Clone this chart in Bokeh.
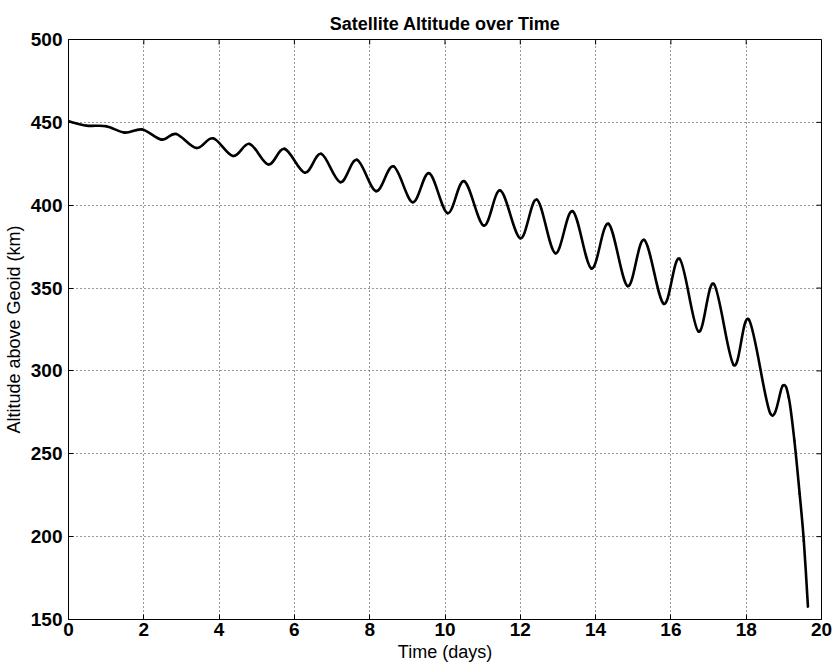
import numpy as np
from bokeh.plotting import figure
from bokeh.models import FixedTicker, Range1d
from bokeh.embed import file_html
from bokeh.resources import INLINE

# ---- data ----
time_days = [0.0, 0.48, 1.0, 1.49, 1.96, 2.47, 2.86, 3.4, 3.84, 4.37, 4.81, 5.31,
             5.74, 6.28, 6.71, 7.22, 7.66, 8.17, 8.63, 9.14, 9.58, 10.07, 10.51,
             11.03, 11.47, 12.0, 12.44, 12.93, 13.39, 13.89, 14.34, 14.85, 15.29,
             15.81, 16.23, 16.73, 17.14, 17.67, 18.07, 18.64, 18.97, 19.13, 19.28,
             19.42, 19.53, 19.64]
altitude_km = [450.7, 448.0, 447.7, 443.8, 445.7, 439.6, 443.0, 434.5, 440.4, 429.7,
               437.0, 424.6, 434.0, 419.6, 431.0, 413.9, 427.4, 408.5, 423.5, 401.8,
               419.3, 395.2, 414.5, 387.7, 408.9, 380.1, 403.4, 371.0, 396.4, 361.8,
               388.8, 351.2, 379.1, 340.5, 367.7, 323.8, 352.5, 303.5, 331.0, 274.3,
               291.0, 284.0, 258.0, 225.8, 197.6, 157.8]
x_ticks = [0, 2, 4, 6, 8, 10, 12, 14, 16, 18, 20]
y_ticks = [150, 200, 250, 300, 350, 400, 450, 500]

FONT = "Liberation Sans"

p = figure(width=833, height=668, output_backend="svg", toolbar_location=None,
           x_range=Range1d(x_ticks[0], x_ticks[-1]),
           y_range=Range1d(y_ticks[0], y_ticks[-1]),
           min_border_left=67, min_border_right=12, min_border_top=39,
           min_border_bottom=49, title="Satellite Altitude over Time")

p.title.text_font = FONT
p.title.text_font_size = "18px"
p.title.text_font_style = "bold"
p.title.text_color = "black"
p.title.align = "center"
p.title.standoff = 11

p.outline_line_color = "black"
p.outline_line_width = 1
p.background_fill_color = "white"
p.border_fill_color = "white"

# smooth display curve (Catmull-Rom -> cubic Bezier) through the read points
t = np.array(time_days)
a = np.array(altitude_km)
n = len(t)
tp = np.concatenate([[t[0]], t, [t[-1]]])
ap = np.concatenate([[a[0]], a, [a[-1]]])
cx0 = tp[1:n] + (tp[2:n + 1] - tp[0:n - 1]) / 6.0
cy0 = ap[1:n] + (ap[2:n + 1] - ap[0:n - 1]) / 6.0
cx1 = tp[2:n + 1] - (tp[3:n + 2] - tp[1:n]) / 6.0
cy1 = ap[2:n + 1] - (ap[3:n + 2] - ap[1:n]) / 6.0
p.bezier(x0=t[:-1], y0=a[:-1], x1=t[1:], y1=a[1:], cx0=cx0, cy0=cy0,
         cx1=cx1, cy1=cy1, line_color="black", line_width=2.6, line_cap="round")

for ax in (p.xaxis[0], p.yaxis[0]):
    ax.major_label_text_font = FONT
    ax.major_label_text_font_size = "19px"
    ax.major_label_text_font_style = "bold"
    ax.major_label_text_color = "black"
    ax.axis_label_text_font = FONT
    ax.axis_label_text_font_size = "18px"
    ax.axis_label_text_font_style = "normal"
    ax.axis_label_text_color = "black"
    ax.major_tick_in = 5
    ax.major_tick_out = 0
    ax.minor_tick_line_color = None
    ax.axis_line_color = "black"
    ax.major_tick_line_color = "black"

p.xaxis[0].ticker = FixedTicker(ticks=x_ticks)
p.yaxis[0].ticker = FixedTicker(ticks=y_ticks)
p.xaxis[0].axis_label = "Time (days)"
p.yaxis[0].axis_label = "Altitude above Geoid (km)"
p.xaxis[0].major_label_standoff = 3
p.xaxis[0].axis_label_standoff = 3
p.yaxis[0].major_label_standoff = 6
p.yaxis[0].axis_label_standoff = 4

# mirrored inward tick marks on the top and right edges (MATLAB box style)
p.ray(x=x_ticks, y=[y_ticks[-1]] * len(x_ticks), length=5, angle=-np.pi / 2,
      length_units="screen", line_color="black", line_width=1)
p.ray(x=[x_ticks[-1]] * len(y_ticks), y=y_ticks, length=5, angle=np.pi,
      length_units="screen", line_color="black", line_width=1)

for g, ticks in ((p.xgrid[0], x_ticks), (p.ygrid[0], y_ticks)):
    g.ticker = FixedTicker(ticks=ticks)
    g.grid_line_color = "#333333"
    g.grid_line_dash = "1 3"
    g.grid_line_width = 1

open("out.html", "w").write(file_html(p, INLINE))
